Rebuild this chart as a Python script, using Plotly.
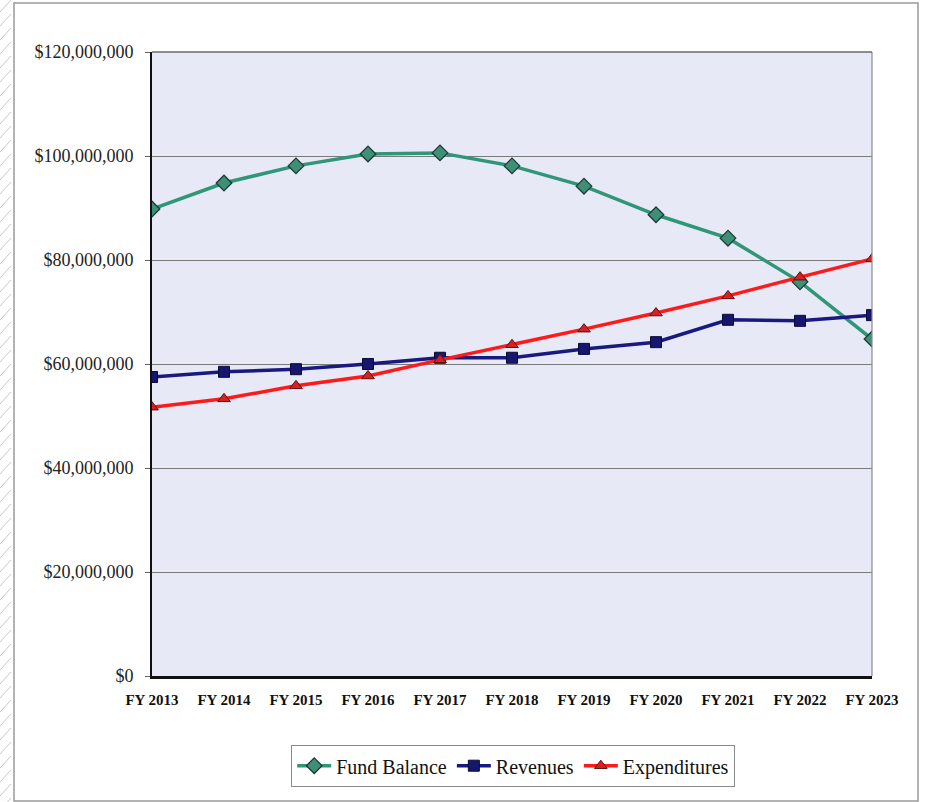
import plotly.graph_objects as go

years = ["FY 2013", "FY 2014", "FY 2015", "FY 2016", "FY 2017", "FY 2018",
         "FY 2019", "FY 2020", "FY 2021", "FY 2022", "FY 2023"]
fund_balance = [89.8, 94.8, 98.1, 100.4, 100.6, 98.1, 94.2, 88.7, 84.2, 75.8, 64.8]
revenues = [57.5, 58.5, 59.0, 60.0, 61.2, 61.2, 62.9, 64.2, 68.5, 68.3, 69.4]
expenditures = [51.7, 53.3, 55.8, 57.7, 60.8, 63.7, 66.7, 69.8, 73.1, 76.7, 80.2]
y_ticks = [0, 20, 40, 60, 80, 100, 120]
y_tick_text = ["$0", "$20,000,000", "$40,000,000", "$60,000,000",
               "$80,000,000", "$100,000,000", "$120,000,000"]

W, H = 926, 802
L, R, T, B = 152, 54, 52, 126
PW, PH = W - L - R, H - T - B


def px(x):
    return (x - L) / PW


def py(y):
    return 1 - (y - T) / PH


xs = list(range(len(years)))
M = 1e6
SERIF = "Liberation Serif"

fig = go.Figure()
fig.add_trace(go.Scatter(
    x=xs, y=[v * M for v in fund_balance], name="Fund Balance", mode="lines+markers",
    line=dict(color="#2F9677", width=3.5),
    marker=dict(symbol="diamond", size=12, color="#3E8F78", line=dict(color="#1E3A33", width=1.3))))
fig.add_trace(go.Scatter(
    x=xs, y=[v * M for v in revenues], name="Revenues", mode="lines+markers",
    line=dict(color="#1A1A7E", width=3.5),
    marker=dict(symbol="square", size=11, color="#16166E", line=dict(color="#0A0A3A", width=1))))
fig.add_trace(go.Scatter(
    x=xs, y=[v * M for v in expenditures], name="Expenditures", mode="lines+markers",
    line=dict(color="#FF1A1A", width=3.5),
    marker=dict(symbol="triangle-up", size=11, color="#D92020", line=dict(color="#5A1010", width=1))))

shapes = []
# outer chart frame
shapes.append(dict(type="rect", xref="paper", yref="paper",
                   x0=px(14), x1=px(918), y0=py(3), y1=py(801),
                   line=dict(color="#9A9A9A", width=1.5), fillcolor="rgba(0,0,0,0)", layer="below"))
# hatched strip on the left edge
for k in range(-2, 60):
    y0 = k * 14
    shapes.append(dict(type="line", xref="paper", yref="paper",
                       x0=px(0), y0=py(y0 + 12), x1=px(11), y1=py(y0),
                       line=dict(color="#C8C8C8", width=1), layer="below"))
# plot area top and right borders
shapes.append(dict(type="line", xref="paper", yref="paper", x0=1, x1=1, y0=0, y1=1,
                   line=dict(color="#8A8A8A", width=1.2)))
shapes.append(dict(type="line", xref="paper", yref="paper", x0=0, x1=1, y0=1, y1=1,
                   line=dict(color="#6A6A6A", width=1.5)))

fig.update_layout(
    width=W, height=H,
    margin=dict(l=L, r=R, t=T, b=B),
    paper_bgcolor="white",
    plot_bgcolor="#E7E9F7",
    font=dict(family=SERIF, color="#111111"),
    showlegend=True,
    legend=dict(orientation="h", x=px(513), xanchor="center", y=py(766), yanchor="middle",
                bordercolor="#8A8A8A", borderwidth=1.2, bgcolor="white",
                font=dict(size=20, family="Times New Roman", color="#111"),
                itemwidth=34, tracegroupgap=0),
    shapes=shapes,
    xaxis=dict(range=[0, 10], tickmode="array", tickvals=xs,
               ticktext=["<b>%s</b>" % y for y in years],
               showgrid=False, zeroline=False, showline=True, linecolor="#111111", linewidth=2.5,
               ticks="", ticklabelstandoff=8,
               tickfont=dict(size=15, family=SERIF, color="#111"),
               fixedrange=True),
    yaxis=dict(range=[0, 120 * M], tickmode="array", tickvals=[v * M for v in y_ticks],
               ticktext=y_tick_text, showgrid=True, gridcolor="#7A7A7A", gridwidth=1.2,
               zeroline=False, showline=True, linecolor="#111111", linewidth=2,
               ticks="outside", ticklen=5, tickcolor="#666", ticklabelstandoff=8,
               tickfont=dict(size=18, family=SERIF, color="#222"),
               fixedrange=True),
)

fig.write_html("out.html")
